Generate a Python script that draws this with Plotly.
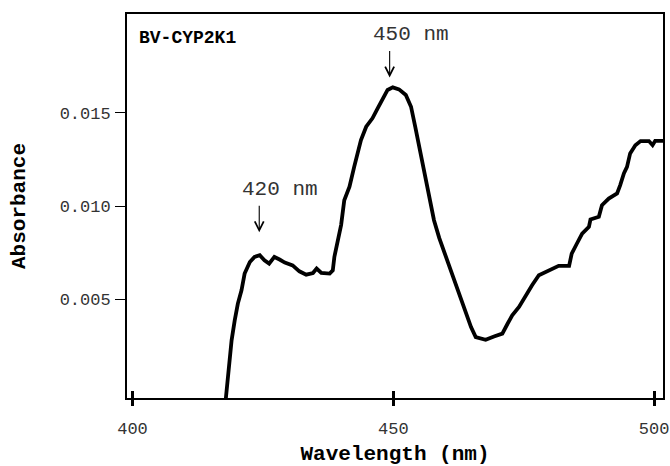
import plotly.graph_objects as go

# Wavelength (nm) and absorbance
wavelength = [417.9, 418.5, 419.0, 419.6, 420.2, 420.9, 421.5, 422.5, 423.4, 424.4,
              425.3, 426.2, 427.2, 428.2, 429.2, 430.7, 432.0, 433.3, 434.6, 435.3,
              436.2, 437.8, 438.4, 438.7, 439.2, 440.0, 440.6, 441.6, 442.5, 443.2,
              443.8, 444.8, 446.0, 447.0, 448.0, 448.9, 449.9, 451.1, 452.4, 453.4,
              454.2, 455.0, 455.9, 456.9, 457.8, 458.8, 460.1, 461.3, 462.6, 463.9,
              464.9, 465.8, 467.7, 469.3, 470.9, 471.9, 472.8, 474.1, 475.4, 476.6,
              477.9, 479.7, 481.7, 483.7, 484.2, 485.2, 486.2, 487.5, 487.8, 489.4,
              490.0, 491.3, 492.9, 493.5, 494.2, 494.8, 495.4, 496.4, 497.4, 499.0,
              499.7, 500.2, 501.0, 501.7]
absorbance = [-0.0003, 0.00156, 0.00281, 0.00388, 0.00478, 0.00549, 0.00639, 0.00701, 0.00728, 0.00737,
              0.00710, 0.00692, 0.00728, 0.00714, 0.00698, 0.00683, 0.00651, 0.00633, 0.00642, 0.00666,
              0.00642, 0.00639, 0.00656, 0.00728, 0.00790, 0.00900, 0.01032, 0.01104, 0.01211, 0.01283,
              0.01354, 0.01426, 0.01471, 0.01524, 0.01578, 0.01623, 0.01637, 0.01626, 0.01596, 0.01533,
              0.01426, 0.01318, 0.01193, 0.01068, 0.00925, 0.00830, 0.00728, 0.00639, 0.00531, 0.00424,
              0.00352, 0.00298, 0.00284, 0.00302, 0.00317, 0.00370, 0.00415, 0.00460, 0.00522, 0.00576,
              0.00630, 0.00656, 0.00680, 0.00680, 0.00746, 0.00800, 0.00853, 0.00889, 0.00929, 0.00943,
              0.01005, 0.01041, 0.01068, 0.01113, 0.01176, 0.01211, 0.01283, 0.01327, 0.01349, 0.01349,
              0.01327, 0.01350, 0.01350, 0.01350]

x_ticks = [400, 450, 500]
y_ticks = [0.005, 0.010, 0.015]
y_tick_text = ["0.005", "0.010", "0.015"]

peak_labels = ["420 nm", "450 nm"]
peak_x = [424.3, 449.3]
peak_y = [0.0086, 0.0169]

FONT = "Liberation Mono"

fig = go.Figure()
fig.add_trace(go.Scatter(
    x=wavelength, y=absorbance, mode="lines",
    line=dict(color="black", width=3.8), showlegend=False, hoverinfo="skip"))
# overlay axis to get ticks crossing the bottom axis line
fig.add_trace(go.Scatter(x=[wavelength[0]], y=[absorbance[0]], xaxis="x2",
                         mode="markers", marker=dict(opacity=0), showlegend=False,
                         hoverinfo="skip"))

xr = [398.95, 501.7]
yr = [-0.00028, 0.0203]

fig.update_layout(
    width=670, height=466,
    margin=dict(l=127, r=7, t=14, b=68, autoexpand=False),
    paper_bgcolor="white", plot_bgcolor="white",
    font=dict(family=FONT, color="#222"),
    xaxis=dict(range=xr, tickvals=x_ticks, ticks="outside", ticklen=6, tickwidth=2.5,
               tickcolor="black", showline=True, linecolor="black", linewidth=1.8,
               mirror=True, showgrid=False, zeroline=False, automargin=False,
               tickfont=dict(family=FONT, size=17, color="#333"),
               ticklabelstandoff=8,
               title=dict(text="<b>Wavelength (nm)</b>", standoff=11,
                          font=dict(family=FONT, size=21, color="black"))),
    xaxis2=dict(range=xr, overlaying="x", tickvals=x_ticks, ticks="inside", ticklen=7,
                tickwidth=2.5, tickcolor="black", showticklabels=False, showline=False,
                showgrid=False, zeroline=False, side="bottom", automargin=False),
    yaxis=dict(range=yr, tickvals=y_ticks, ticktext=y_tick_text, ticks="outside",
               ticklen=10, tickwidth=1.3, tickcolor="black", showline=True,
               linecolor="black", linewidth=1.8, mirror=True, showgrid=False,
               zeroline=False, ticklabelstandoff=1, automargin=False,
               tickfont=dict(family=FONT, size=17, color="#333"),
               title=dict(text="<b>Absorbance</b>", standoff=28,
                          font=dict(family=FONT, size=21, color="black"))),
)

# arrows marking the peaks
for px, py in zip(peak_x, peak_y):
    fig.add_annotation(x=px, y=py, xref="x", yref="y", text="", showarrow=True,
                       arrowhead=5, arrowsize=1.6, arrowwidth=1.1, arrowcolor="black",
                       ax=0, ay=-28)
# peak labels: "420"/"450" centered above the arrow
for lbl, px, py in zip(peak_labels, peak_x, peak_y):
    fig.add_annotation(x=px, y=py, xref="x", yref="y", text=lbl, showarrow=False,
                       xanchor="left", yanchor="middle", xshift=-19, yshift=43,
                       font=dict(family=FONT, size=21, color="#333"))

fig.add_annotation(x=0.018, y=0.9375, xref="paper", yref="paper", text="<b>BV-CYP2K1</b>",
                   showarrow=False, xanchor="left", yanchor="middle",
                   font=dict(family=FONT, size=18, color="black"))

fig.write_html("out.html", config={"displayModeBar": False},
               post_script="document.body.style.margin='0';document.body.style.padding='0';")
